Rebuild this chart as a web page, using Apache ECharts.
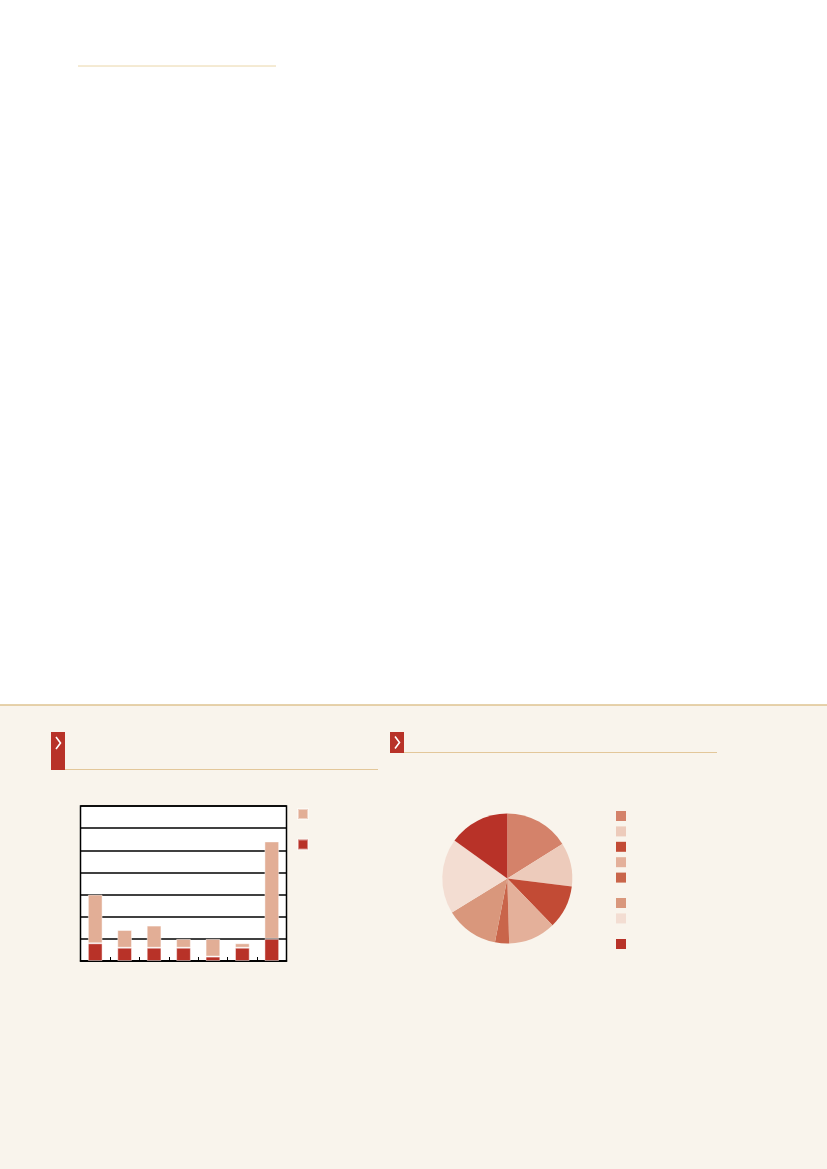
<!DOCTYPE html>
<html>
<head>
<meta charset="utf-8">
<script src="https://cdn.jsdelivr.net/npm/echarts@6/dist/echarts.min.js"></script>
<style>
html,body{margin:0;padding:0;background:#fff;}
#c{width:827px;height:1169px;}
</style>
</head>
<body>
<div id="c"></div>
<script>
// ---- data ----
var barCategories = ['1', '2', '3', '4', '5', '6', '7'];
var barDark = [0.8, 0.6, 0.6, 0.6, 0.2, 0.6, 1.0];
var barLight = [2.2, 0.8, 1.0, 0.4, 0.8, 0.2, 4.4];
var barSeriesNames = ['A', 'B'];
var pieNames = ['p1', 'p2', 'p3', 'p4', 'p5', 'p6', 'p7', 'p8'];
var pieValues = [16.1, 10.9, 10.8, 11.8, 3.5, 13.2, 18.7, 15.1];
var pieColors = ['#D4826A', '#EDCBBB', '#C24B35', '#E4B09A', '#C9654A', '#D9977C', '#F3DDD2', '#B83228'];

var chart = echarts.init(document.getElementById('c'), null, {renderer: 'canvas'});

var lightColor = '#E2AE96';
var darkColor = '#B83228';

var option = {
  animation: false,
  backgroundColor: '#ffffff',
  graphic: [
    {type: 'rect', silent: true, z: -10, shape: {x: 0, y: 705, width: 827, height: 464}, style: {fill: '#F9F4EC'}},
    {type: 'line', silent: true, shape: {x1: 0, y1: 705, x2: 827, y2: 705}, style: {stroke: '#DEC390', lineWidth: 1.5}},
    {type: 'line', silent: true, shape: {x1: 78, y1: 66, x2: 276, y2: 66}, style: {stroke: '#EAD6A8', lineWidth: 1}},
    // left header
    {type: 'rect', silent: true, shape: {x: 51, y: 732, width: 14, height: 38}, style: {fill: '#B83228'}},
    {type: 'polyline', silent: true, shape: {points: [[56, 737], [60.5, 743], [56, 749]]}, style: {stroke: '#fff', lineWidth: 1.6, fill: null}},
    {type: 'line', silent: true, shape: {x1: 65, y1: 769.5, x2: 378, y2: 769.5}, style: {stroke: '#E3C79A', lineWidth: 1}},
    // right header
    {type: 'rect', silent: true, shape: {x: 390, y: 732, width: 14, height: 21}, style: {fill: '#B83228'}},
    {type: 'polyline', silent: true, shape: {points: [[395, 736.5], [399.5, 742.5], [395, 748.5]]}, style: {stroke: '#fff', lineWidth: 1.6, fill: null}},
    {type: 'line', silent: true, shape: {x1: 404, y1: 752.5, x2: 717, y2: 752.5}, style: {stroke: '#E3C79A', lineWidth: 1}}
  ],
  legend: [
    {
      orient: 'vertical', left: 297, top: 808, padding: 0, itemWidth: 10, itemHeight: 10, itemGap: 18.4,
      icon: 'rect', data: [barSeriesNames[1], barSeriesNames[0]],
      formatter: function () { return ''; }, selectedMode: false
    },
    {
      orient: 'vertical', left: 616, top: 811, padding: 0, itemWidth: 10, itemHeight: 10, itemGap: 5.4,
      icon: 'rect', data: pieNames.slice(0, 5),
      formatter: function () { return ''; }, selectedMode: false
    },
    {
      orient: 'vertical', left: 616, top: 898, padding: 0, itemWidth: 10, itemHeight: 10, itemGap: 5.4,
      icon: 'rect', data: pieNames.slice(5, 7),
      formatter: function () { return ''; }, selectedMode: false
    },
    {
      orient: 'vertical', left: 616, top: 939, padding: 0, itemWidth: 10, itemHeight: 10, itemGap: 5.4,
      icon: 'rect', data: pieNames.slice(7),
      formatter: function () { return ''; }, selectedMode: false
    }
  ],
  grid: {
    left: 80.5, top: 806, width: 206, height: 155,
    show: true, backgroundColor: '#ffffff', borderColor: '#000', borderWidth: 1.5
  },
  xAxis: {
    type: 'category', data: barCategories, boundaryGap: true,
    axisLine: {show: true, lineStyle: {color: '#000', width: 1.5}},
    axisTick: {show: true, inside: true, length: 4, lineStyle: {color: '#000', width: 1}},
    axisLabel: {show: false}, splitLine: {show: false}
  },
  yAxis: {
    type: 'value', min: 0, max: 7, interval: 1,
    axisLine: {show: false}, axisTick: {show: false}, axisLabel: {show: false},
    splitLine: {show: true, lineStyle: {color: '#000', width: 1.5}}
  },
  series: [
    {
      name: barSeriesNames[0], type: 'bar', stack: 's', data: barDark, barWidth: '50%',
      itemStyle: {color: darkColor, borderColor: 'rgba(255,255,255,0.45)', borderWidth: 1}, z: 3
    },
    {
      name: barSeriesNames[1], type: 'bar', stack: 's', data: barLight, barWidth: '50%',
      itemStyle: {color: lightColor, borderColor: 'rgba(255,255,255,0.45)', borderWidth: 1}, z: 3
    },
    {
      type: 'pie', center: [507.3, 878.5], radius: 65, startAngle: 90, clockwise: true,
      label: {show: false}, labelLine: {show: false},
      itemStyle: {borderWidth: 0},
      data: pieNames.map(function (n, i) {
        return {name: n, value: pieValues[i], itemStyle: {color: pieColors[i]}};
      })
    }
  ]
};
chart.setOption(option);
</script>
</body>
</html>
